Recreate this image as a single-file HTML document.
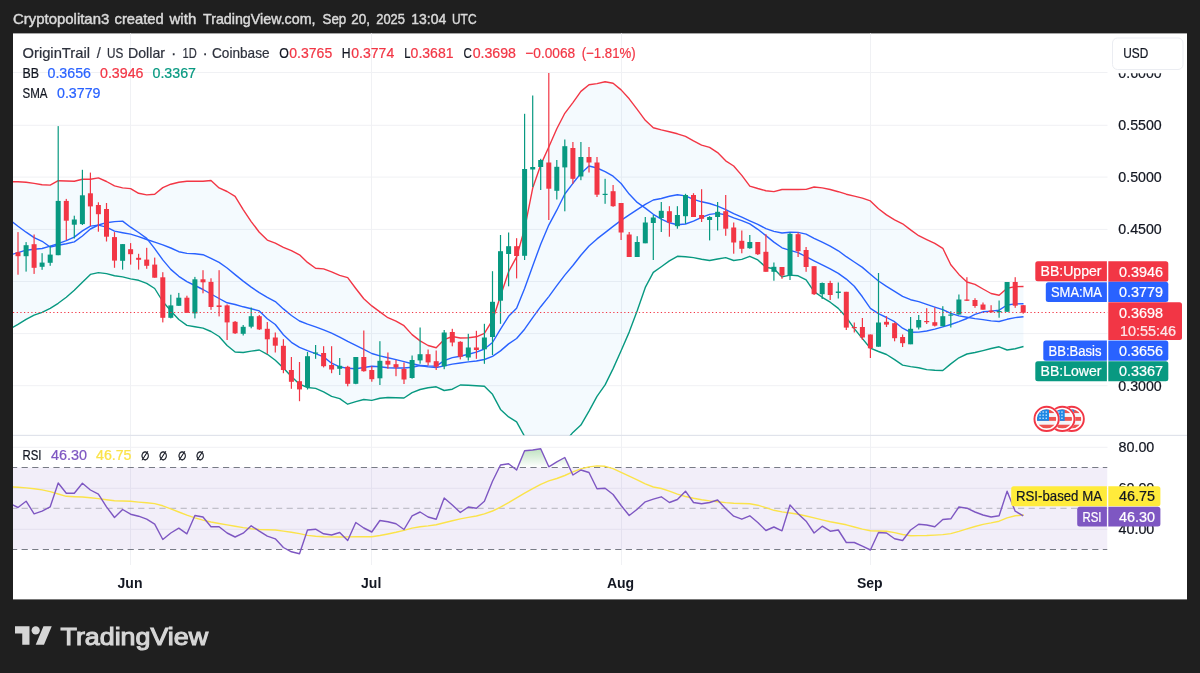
<!DOCTYPE html>
<html lang="en"><head><meta charset="utf-8"><title>OriginTrail / US Dollar chart</title>
<style>
html,body{margin:0;padding:0;background:#1f1f1f;}
body{width:1200px;height:673px;overflow:hidden;position:relative;font-family:"Liberation Sans",sans-serif;}
svg{position:absolute;left:0;top:0;display:block}
text{font-family:"Liberation Sans",sans-serif;}
</style></head><body>
<svg width="1200" height="673" viewBox="0 0 1200 673">
<rect x="0" y="0" width="1200" height="673" fill="#1f1f1f"/>
<rect x="13" y="33.4" width="1174" height="566.0" fill="#ffffff"/>
<defs><clipPath id="cm"><rect x="13" y="33.4" width="1094.5" height="401.90000000000003"/></clipPath><clipPath id="cr"><rect x="13" y="436.0" width="1094.5" height="129.7"/></clipPath><linearGradient id="gg" x1="0" y1="0" x2="0" y2="1"><stop offset="0" stop-color="#4CAF50" stop-opacity="0.36"/><stop offset="1" stop-color="#4CAF50" stop-opacity="0"/></linearGradient></defs>
<g stroke="#f0f1f4" stroke-width="1">
<line x1="13" y1="72.5" x2="1107.5" y2="72.5"/>
<line x1="13" y1="125.3" x2="1107.5" y2="125.3"/>
<line x1="13" y1="177.1" x2="1107.5" y2="177.1"/>
<line x1="13" y1="229.4" x2="1107.5" y2="229.4"/>
<line x1="13" y1="281.5" x2="1107.5" y2="281.5"/>
<line x1="13" y1="333.6" x2="1107.5" y2="333.6"/>
<line x1="13" y1="385.7" x2="1107.5" y2="385.7"/>
<line x1="13" y1="447.3" x2="1107.5" y2="447.3"/>
<line x1="13" y1="488.3" x2="1107.5" y2="488.3"/>
<line x1="13" y1="529.3" x2="1107.5" y2="529.3"/>
<line x1="130.5" y1="33.4" x2="130.5" y2="565"/>
<line x1="371.5" y1="33.4" x2="371.5" y2="565"/>
<line x1="621.5" y1="33.4" x2="621.5" y2="565"/>
<line x1="870.5" y1="33.4" x2="870.5" y2="565"/>
</g>
<rect x="13" y="434.8" width="1174" height="1.2" fill="#e0e3eb"/>
<g clip-path="url(#cm)">
<polygon points="8.0,181.7 10.0,181.7 18.0,181.8 26.1,182.3 34.1,183.4 42.1,184.7 50.2,185.1 58.2,180.7 66.3,181.0 74.3,181.2 82.4,179.3 90.4,179.3 98.4,177.9 106.5,181.5 114.5,185.9 122.6,187.9 130.6,188.6 138.6,193.3 146.7,194.9 154.7,194.2 162.8,187.6 170.8,184.2 178.8,182.2 186.9,181.3 194.9,181.3 203.0,181.3 211.0,180.5 219.1,187.9 227.1,191.5 235.1,196.3 243.2,209.6 251.2,221.6 259.3,232.2 267.3,240.1 275.3,243.2 283.4,247.3 291.4,250.7 299.5,254.8 307.5,262.4 315.6,268.3 323.6,268.9 331.6,271.9 339.7,275.4 347.7,277.6 355.8,288.5 363.8,298.8 371.8,305.9 379.9,311.9 387.9,317.7 396.0,321.1 404.0,325.7 412.1,334.6 420.1,340.9 428.1,345.5 436.2,347.7 444.2,339.6 452.3,336.5 460.3,338.0 468.3,337.7 476.4,336.8 484.4,333.3 492.5,320.2 500.5,296.0 508.6,271.7 516.6,256.9 524.6,228.8 532.7,188.1 540.7,164.9 548.8,147.0 556.8,128.7 564.8,113.3 572.9,102.6 580.9,91.4 589.0,84.7 597.0,83.6 605.1,81.8 613.1,83.2 621.1,89.9 629.2,98.8 637.2,109.3 645.3,120.3 653.3,127.8 661.3,129.9 669.4,131.7 677.4,133.8 685.5,136.4 693.5,140.9 701.6,145.1 709.6,147.3 717.6,152.6 725.7,160.8 733.7,166.0 741.8,175.4 749.8,186.1 757.8,188.5 765.9,190.7 773.9,191.6 782.0,189.5 790.0,189.5 798.1,189.5 806.1,189.4 814.1,187.0 822.2,187.9 830.2,189.5 838.3,191.7 846.3,194.2 854.3,196.1 862.4,198.1 870.4,200.9 878.5,208.7 886.5,214.9 894.6,219.8 902.6,223.8 910.6,229.9 918.7,235.7 926.7,239.6 934.8,243.4 942.8,248.3 950.8,264.8 958.9,274.4 966.9,282.0 975.0,284.4 983.0,289.0 991.1,293.5 999.1,295.2 1007.1,288.3 1015.2,286.6 1023.5,286.5 1023.5,346.5 1015.2,348.7 1007.1,350.0 999.1,346.8 991.1,348.5 983.0,350.6 975.0,352.5 966.9,354.0 958.9,357.8 950.8,363.9 942.8,370.5 934.8,370.3 926.7,369.6 918.7,367.7 910.6,366.6 902.6,365.1 894.6,359.7 886.5,354.5 878.5,351.5 870.4,348.2 862.4,338.6 854.3,328.6 846.3,317.3 838.3,308.4 830.2,302.2 822.2,297.3 814.1,291.6 806.1,279.8 798.1,275.8 790.0,275.1 782.0,276.9 773.9,268.8 765.9,267.2 757.8,259.9 749.8,256.3 741.8,259.4 733.7,260.5 725.7,257.6 717.6,259.0 709.6,260.5 701.6,259.3 693.5,257.6 685.5,256.7 677.4,256.3 669.4,260.9 661.3,266.7 653.3,272.4 645.3,287.4 637.2,310.8 629.2,332.1 621.1,350.8 613.1,368.6 605.1,384.9 597.0,396.3 589.0,411.1 580.9,425.1 572.9,432.4 564.8,442.0 556.8,450.8 548.8,455.8 540.7,453.9 532.7,447.9 524.6,436.4 516.6,421.8 508.6,416.9 500.5,409.4 492.5,394.3 484.4,386.2 476.4,385.7 468.3,385.3 460.3,385.0 452.3,389.2 444.2,390.5 436.2,386.8 428.1,387.7 420.1,389.5 412.1,392.7 404.0,398.0 396.0,397.8 387.9,397.5 379.9,398.3 371.8,400.4 363.8,399.5 355.8,401.7 347.7,404.2 339.7,398.6 331.6,396.3 323.6,391.9 315.6,388.4 307.5,387.5 299.5,384.2 291.4,376.5 283.4,367.9 275.3,360.3 267.3,354.3 259.3,350.0 251.2,351.1 243.2,352.5 235.1,352.0 227.1,345.5 219.1,336.5 211.0,331.5 203.0,328.1 194.9,326.7 186.9,325.4 178.8,319.5 170.8,310.9 162.8,301.5 154.7,288.5 146.7,283.4 138.6,280.3 130.6,278.9 122.6,276.9 114.5,275.7 106.5,273.6 98.4,272.6 90.4,274.4 82.4,282.2 74.3,290.3 66.3,297.3 58.2,303.3 50.2,308.3 42.1,312.3 34.1,315.2 26.1,319.4 18.0,324.4 10.0,329.0 8.0,330.0" fill="#2196F3" fill-opacity="0.05"/>
<polyline points="8.0,181.7 10.0,181.7 18.0,181.8 26.1,182.3 34.1,183.4 42.1,184.7 50.2,185.1 58.2,180.7 66.3,181.0 74.3,181.2 82.4,179.3 90.4,179.3 98.4,177.9 106.5,181.5 114.5,185.9 122.6,187.9 130.6,188.6 138.6,193.3 146.7,194.9 154.7,194.2 162.8,187.6 170.8,184.2 178.8,182.2 186.9,181.3 194.9,181.3 203.0,181.3 211.0,180.5 219.1,187.9 227.1,191.5 235.1,196.3 243.2,209.6 251.2,221.6 259.3,232.2 267.3,240.1 275.3,243.2 283.4,247.3 291.4,250.7 299.5,254.8 307.5,262.4 315.6,268.3 323.6,268.9 331.6,271.9 339.7,275.4 347.7,277.6 355.8,288.5 363.8,298.8 371.8,305.9 379.9,311.9 387.9,317.7 396.0,321.1 404.0,325.7 412.1,334.6 420.1,340.9 428.1,345.5 436.2,347.7 444.2,339.6 452.3,336.5 460.3,338.0 468.3,337.7 476.4,336.8 484.4,333.3 492.5,320.2 500.5,296.0 508.6,271.7 516.6,256.9 524.6,228.8 532.7,188.1 540.7,164.9 548.8,147.0 556.8,128.7 564.8,113.3 572.9,102.6 580.9,91.4 589.0,84.7 597.0,83.6 605.1,81.8 613.1,83.2 621.1,89.9 629.2,98.8 637.2,109.3 645.3,120.3 653.3,127.8 661.3,129.9 669.4,131.7 677.4,133.8 685.5,136.4 693.5,140.9 701.6,145.1 709.6,147.3 717.6,152.6 725.7,160.8 733.7,166.0 741.8,175.4 749.8,186.1 757.8,188.5 765.9,190.7 773.9,191.6 782.0,189.5 790.0,189.5 798.1,189.5 806.1,189.4 814.1,187.0 822.2,187.9 830.2,189.5 838.3,191.7 846.3,194.2 854.3,196.1 862.4,198.1 870.4,200.9 878.5,208.7 886.5,214.9 894.6,219.8 902.6,223.8 910.6,229.9 918.7,235.7 926.7,239.6 934.8,243.4 942.8,248.3 950.8,264.8 958.9,274.4 966.9,282.0 975.0,284.4 983.0,289.0 991.1,293.5 999.1,295.2 1007.1,288.3 1015.2,286.6 1023.5,286.5" fill="none" stroke="#F23645" stroke-width="1.4" stroke-linejoin="round"/>
<polyline points="8.0,330.0 10.0,329.0 18.0,324.4 26.1,319.4 34.1,315.2 42.1,312.3 50.2,308.3 58.2,303.3 66.3,297.3 74.3,290.3 82.4,282.2 90.4,274.4 98.4,272.6 106.5,273.6 114.5,275.7 122.6,276.9 130.6,278.9 138.6,280.3 146.7,283.4 154.7,288.5 162.8,301.5 170.8,310.9 178.8,319.5 186.9,325.4 194.9,326.7 203.0,328.1 211.0,331.5 219.1,336.5 227.1,345.5 235.1,352.0 243.2,352.5 251.2,351.1 259.3,350.0 267.3,354.3 275.3,360.3 283.4,367.9 291.4,376.5 299.5,384.2 307.5,387.5 315.6,388.4 323.6,391.9 331.6,396.3 339.7,398.6 347.7,404.2 355.8,401.7 363.8,399.5 371.8,400.4 379.9,398.3 387.9,397.5 396.0,397.8 404.0,398.0 412.1,392.7 420.1,389.5 428.1,387.7 436.2,386.8 444.2,390.5 452.3,389.2 460.3,385.0 468.3,385.3 476.4,385.7 484.4,386.2 492.5,394.3 500.5,409.4 508.6,416.9 516.6,421.8 524.6,436.4 532.7,447.9 540.7,453.9 548.8,455.8 556.8,450.8 564.8,442.0 572.9,432.4 580.9,425.1 589.0,411.1 597.0,396.3 605.1,384.9 613.1,368.6 621.1,350.8 629.2,332.1 637.2,310.8 645.3,287.4 653.3,272.4 661.3,266.7 669.4,260.9 677.4,256.3 685.5,256.7 693.5,257.6 701.6,259.3 709.6,260.5 717.6,259.0 725.7,257.6 733.7,260.5 741.8,259.4 749.8,256.3 757.8,259.9 765.9,267.2 773.9,268.8 782.0,276.9 790.0,275.1 798.1,275.8 806.1,279.8 814.1,291.6 822.2,297.3 830.2,302.2 838.3,308.4 846.3,317.3 854.3,328.6 862.4,338.6 870.4,348.2 878.5,351.5 886.5,354.5 894.6,359.7 902.6,365.1 910.6,366.6 918.7,367.7 926.7,369.6 934.8,370.3 942.8,370.5 950.8,363.9 958.9,357.8 966.9,354.0 975.0,352.5 983.0,350.6 991.1,348.5 999.1,346.8 1007.1,350.0 1015.2,348.7 1023.5,346.5" fill="none" stroke="#089981" stroke-width="1.4" stroke-linejoin="round"/>
<polyline points="8.0,255.5 10.0,255.0 18.0,252.7 26.1,250.2 34.1,249.2 42.1,248.5 50.2,246.2 58.2,243.7 66.3,240.7 74.3,237.1 82.4,230.9 90.4,226.1 98.4,225.1 106.5,227.1 114.5,231.1 122.6,232.7 130.6,234.1 138.6,236.6 146.7,239.5 154.7,242.2 162.8,244.8 170.8,248.0 178.8,251.7 186.9,253.4 194.9,253.8 203.0,254.7 211.0,258.3 219.1,262.4 227.1,268.0 235.1,274.6 243.2,281.1 251.2,287.1 259.3,292.7 267.3,297.4 275.3,301.6 283.4,308.9 291.4,315.5 299.5,321.0 307.5,324.2 315.6,326.9 323.6,329.9 331.6,333.2 339.7,337.2 347.7,341.4 355.8,345.3 363.8,349.3 371.8,353.5 379.9,355.9 387.9,357.7 396.0,359.6 404.0,361.6 412.1,363.7 420.1,365.5 428.1,366.9 436.2,367.5 444.2,365.9 452.3,364.1 460.3,363.0 468.3,361.9 476.4,361.0 484.4,359.5 492.5,356.3 500.5,350.9 508.6,343.9 516.6,338.5 524.6,329.2 532.7,317.6 540.7,306.7 548.8,296.6 556.8,285.7 564.8,275.1 572.9,265.5 580.9,255.2 589.0,246.0 597.0,238.9 605.1,232.6 613.1,226.4 621.1,220.4 629.2,214.8 637.2,209.6 645.3,204.4 653.3,200.0 661.3,198.5 669.4,196.3 677.4,194.7 685.5,195.9 693.5,199.3 701.6,201.8 709.6,203.5 717.6,206.1 725.7,209.7 733.7,213.6 741.8,217.2 749.8,220.8 757.8,224.4 765.9,228.6 773.9,231.4 782.0,233.0 790.0,232.2 798.1,232.4 806.1,234.1 814.1,238.3 822.2,242.2 830.2,246.1 838.3,250.8 846.3,256.7 854.3,262.0 862.4,267.4 870.4,274.2 878.5,281.0 886.5,286.4 894.6,291.3 902.6,296.4 910.6,299.7 918.7,301.6 926.7,304.3 934.8,307.1 942.8,309.7 950.8,313.3 958.9,315.9 966.9,317.3 975.0,318.6 983.0,319.6 991.1,320.9 999.1,321.5 1007.1,319.3 1015.2,317.6 1023.5,316.7" fill="none" stroke="#2962FF" stroke-width="1.4" stroke-linejoin="round"/>
<polyline points="8.0,218.5 10.0,220.1 18.0,226.3 26.1,232.2 34.1,237.6 42.1,241.3 50.2,247.0 58.2,245.3 66.3,243.8 74.3,241.9 82.4,236.0 90.4,229.0 98.4,225.0 106.5,222.7 114.5,221.6 122.6,221.1 130.6,227.2 138.6,232.5 146.7,238.4 154.7,248.6 162.8,259.9 170.8,269.4 178.8,276.3 186.9,281.6 194.9,285.5 203.0,289.5 211.0,294.0 219.1,298.5 227.1,302.8 235.1,304.5 243.2,306.8 251.2,308.7 259.3,310.9 267.3,318.7 275.3,324.5 283.4,334.8 291.4,342.3 299.5,347.3 307.5,350.6 315.6,353.6 323.6,356.9 331.6,363.2 339.7,366.9 347.7,368.3 355.8,368.7 363.8,367.5 371.8,366.3 379.9,366.8 387.9,367.8 396.0,368.0 404.0,368.0 412.1,367.2 420.1,365.5 428.1,365.9 436.2,366.1 444.2,360.6 452.3,357.6 460.3,356.2 468.3,354.3 476.4,352.1 484.4,349.0 492.5,342.5 500.5,329.1 508.6,316.3 516.6,308.2 524.6,288.6 532.7,265.9 540.7,244.2 548.8,225.1 556.8,210.2 564.8,194.0 572.9,183.3 580.9,173.4 589.0,166.0 597.0,168.0 605.1,171.6 613.1,176.2 621.1,183.5 629.2,194.1 637.2,202.4 645.3,208.1 653.3,214.3 661.3,219.1 669.4,222.8 677.4,224.8 685.5,224.0 693.5,221.2 701.6,217.3 709.6,214.4 717.6,213.4 725.7,214.7 733.7,217.9 741.8,220.6 749.8,223.9 757.8,229.3 765.9,235.6 773.9,242.1 782.0,247.8 790.0,250.4 798.1,252.7 806.1,256.7 814.1,260.8 822.2,264.8 830.2,268.8 838.3,273.4 846.3,279.1 854.3,286.3 862.4,296.8 870.4,308.4 878.5,313.7 886.5,317.5 894.6,321.7 902.6,328.2 910.6,332.3 918.7,332.1 926.7,331.0 934.8,329.1 942.8,326.9 950.8,324.5 958.9,321.7 966.9,318.5 975.0,314.4 983.0,311.8 991.1,311.1 999.1,310.2 1007.1,305.0 1015.2,303.9 1023.5,303.7" fill="none" stroke="#2962FF" stroke-width="1.4" stroke-linejoin="round"/>
<rect x="17.4" y="232.1" width="1.2" height="42.6" fill="#F23645"/>
<rect x="15.5" y="252.2" width="5" height="4.0" fill="#F23645"/>
<rect x="25.5" y="242.1" width="1.2" height="29.5" fill="#089981"/>
<rect x="23.6" y="245.2" width="5" height="11.0" fill="#089981"/>
<rect x="33.5" y="234.5" width="1.2" height="39.4" fill="#F23645"/>
<rect x="31.6" y="244.2" width="5" height="23.6" fill="#F23645"/>
<rect x="41.5" y="253.2" width="1.2" height="16.6" fill="#089981"/>
<rect x="39.6" y="262.6" width="5" height="4.2" fill="#089981"/>
<rect x="49.6" y="245.8" width="1.2" height="20.0" fill="#089981"/>
<rect x="47.7" y="254.6" width="5" height="8.2" fill="#089981"/>
<rect x="57.6" y="126.1" width="1.2" height="129.1" fill="#089981"/>
<rect x="55.7" y="200.9" width="5" height="54.3" fill="#089981"/>
<rect x="65.7" y="198.9" width="1.2" height="41.2" fill="#F23645"/>
<rect x="63.8" y="200.9" width="5" height="19.8" fill="#F23645"/>
<rect x="73.7" y="215.7" width="1.2" height="22.8" fill="#089981"/>
<rect x="71.8" y="219.5" width="5" height="5.2" fill="#089981"/>
<rect x="81.8" y="169.8" width="1.2" height="55.2" fill="#089981"/>
<rect x="79.9" y="195.3" width="5" height="28.8" fill="#089981"/>
<rect x="89.8" y="172.6" width="1.2" height="53.5" fill="#F23645"/>
<rect x="87.9" y="193.3" width="5" height="13.1" fill="#F23645"/>
<rect x="97.8" y="202.3" width="1.2" height="29.4" fill="#F23645"/>
<rect x="95.9" y="205.0" width="5" height="9.2" fill="#F23645"/>
<rect x="105.9" y="203.0" width="1.2" height="38.5" fill="#F23645"/>
<rect x="104.0" y="209.0" width="5" height="27.7" fill="#F23645"/>
<rect x="113.9" y="232.1" width="1.2" height="35.7" fill="#F23645"/>
<rect x="112.0" y="237.1" width="5" height="23.5" fill="#F23645"/>
<rect x="122.0" y="244.1" width="1.2" height="25.5" fill="#089981"/>
<rect x="120.1" y="244.1" width="5" height="16.7" fill="#089981"/>
<rect x="130.0" y="243.1" width="1.2" height="21.5" fill="#F23645"/>
<rect x="128.1" y="249.2" width="5" height="5.0" fill="#F23645"/>
<rect x="138.0" y="253.8" width="1.2" height="15.8" fill="#F23645"/>
<rect x="136.1" y="257.8" width="5" height="2.0" fill="#F23645"/>
<rect x="146.1" y="247.8" width="1.2" height="21.0" fill="#F23645"/>
<rect x="144.2" y="259.6" width="5" height="6.2" fill="#F23645"/>
<rect x="154.1" y="257.6" width="1.2" height="20.1" fill="#F23645"/>
<rect x="152.2" y="264.6" width="5" height="13.1" fill="#F23645"/>
<rect x="162.2" y="272.2" width="1.2" height="50.2" fill="#F23645"/>
<rect x="160.3" y="277.3" width="5" height="40.5" fill="#F23645"/>
<rect x="170.2" y="294.7" width="1.2" height="23.7" fill="#089981"/>
<rect x="168.3" y="305.4" width="5" height="12.4" fill="#089981"/>
<rect x="178.2" y="292.9" width="1.2" height="12.9" fill="#089981"/>
<rect x="176.3" y="297.7" width="5" height="8.1" fill="#089981"/>
<rect x="186.3" y="295.7" width="1.2" height="17.1" fill="#F23645"/>
<rect x="184.4" y="297.7" width="5" height="15.1" fill="#F23645"/>
<rect x="194.3" y="276.9" width="1.2" height="41.5" fill="#089981"/>
<rect x="192.4" y="279.3" width="5" height="34.1" fill="#089981"/>
<rect x="202.4" y="270.2" width="1.2" height="23.1" fill="#F23645"/>
<rect x="200.5" y="279.3" width="5" height="3.0" fill="#F23645"/>
<rect x="210.4" y="278.3" width="1.2" height="31.5" fill="#F23645"/>
<rect x="208.5" y="281.9" width="5" height="25.1" fill="#F23645"/>
<rect x="218.5" y="270.2" width="1.2" height="46.2" fill="#F23645"/>
<rect x="216.6" y="305.4" width="5" height="1.6" fill="#F23645"/>
<rect x="226.5" y="304.4" width="1.2" height="35.6" fill="#F23645"/>
<rect x="224.6" y="305.4" width="5" height="17.0" fill="#F23645"/>
<rect x="234.5" y="321.0" width="1.2" height="13.0" fill="#F23645"/>
<rect x="232.6" y="321.8" width="5" height="11.5" fill="#F23645"/>
<rect x="242.6" y="325.0" width="1.2" height="10.5" fill="#089981"/>
<rect x="240.7" y="326.8" width="5" height="7.0" fill="#089981"/>
<rect x="250.6" y="307.5" width="1.2" height="20.8" fill="#089981"/>
<rect x="248.7" y="316.2" width="5" height="10.5" fill="#089981"/>
<rect x="258.7" y="315.0" width="1.2" height="15.0" fill="#F23645"/>
<rect x="256.8" y="316.2" width="5" height="13.2" fill="#F23645"/>
<rect x="266.7" y="322.0" width="1.2" height="31.8" fill="#F23645"/>
<rect x="264.8" y="328.8" width="5" height="10.5" fill="#F23645"/>
<rect x="274.7" y="332.5" width="1.2" height="20.0" fill="#F23645"/>
<rect x="272.8" y="337.5" width="5" height="8.2" fill="#F23645"/>
<rect x="282.8" y="339.2" width="1.2" height="34.0" fill="#F23645"/>
<rect x="280.9" y="345.8" width="5" height="24.2" fill="#F23645"/>
<rect x="290.8" y="357.0" width="1.2" height="31.8" fill="#F23645"/>
<rect x="288.9" y="370.0" width="5" height="11.8" fill="#F23645"/>
<rect x="298.9" y="362.0" width="1.2" height="39.2" fill="#F23645"/>
<rect x="297.0" y="381.2" width="5" height="8.2" fill="#F23645"/>
<rect x="306.9" y="352.0" width="1.2" height="37.5" fill="#089981"/>
<rect x="305.0" y="356.2" width="5" height="30.8" fill="#089981"/>
<rect x="315.0" y="345.0" width="1.2" height="13.8" fill="#089981"/>
<rect x="313.1" y="352.5" width="5" height="1.2" fill="#089981"/>
<rect x="323.0" y="346.2" width="1.2" height="21.2" fill="#F23645"/>
<rect x="321.1" y="353.0" width="5" height="13.2" fill="#F23645"/>
<rect x="331.0" y="346.2" width="1.2" height="27.0" fill="#F23645"/>
<rect x="329.1" y="365.0" width="5" height="4.5" fill="#F23645"/>
<rect x="339.1" y="358.0" width="1.2" height="17.0" fill="#089981"/>
<rect x="337.2" y="365.8" width="5" height="3.0" fill="#089981"/>
<rect x="347.1" y="365.8" width="1.2" height="20.5" fill="#F23645"/>
<rect x="345.2" y="366.8" width="5" height="17.0" fill="#F23645"/>
<rect x="355.2" y="357.0" width="1.2" height="27.2" fill="#089981"/>
<rect x="353.3" y="357.0" width="5" height="26.8" fill="#089981"/>
<rect x="363.2" y="330.5" width="1.2" height="41.2" fill="#F23645"/>
<rect x="361.3" y="357.0" width="5" height="14.2" fill="#F23645"/>
<rect x="371.2" y="366.2" width="1.2" height="15.5" fill="#F23645"/>
<rect x="369.3" y="370.0" width="5" height="9.2" fill="#F23645"/>
<rect x="379.3" y="341.2" width="1.2" height="43.8" fill="#089981"/>
<rect x="377.4" y="360.8" width="5" height="17.5" fill="#089981"/>
<rect x="387.3" y="352.5" width="1.2" height="16.2" fill="#F23645"/>
<rect x="385.4" y="360.8" width="5" height="3.8" fill="#F23645"/>
<rect x="395.4" y="360.0" width="1.2" height="16.2" fill="#F23645"/>
<rect x="393.5" y="364.2" width="5" height="3.2" fill="#F23645"/>
<rect x="403.4" y="362.5" width="1.2" height="21.5" fill="#F23645"/>
<rect x="401.5" y="369.0" width="5" height="10.5" fill="#F23645"/>
<rect x="411.5" y="355.5" width="1.2" height="23.2" fill="#089981"/>
<rect x="409.6" y="360.0" width="5" height="18.0" fill="#089981"/>
<rect x="419.5" y="327.5" width="1.2" height="36.2" fill="#089981"/>
<rect x="417.6" y="354.2" width="5" height="6.2" fill="#089981"/>
<rect x="427.5" y="349.5" width="1.2" height="16.0" fill="#F23645"/>
<rect x="425.6" y="354.2" width="5" height="8.2" fill="#F23645"/>
<rect x="435.6" y="350.5" width="1.2" height="19.5" fill="#F23645"/>
<rect x="433.7" y="361.2" width="5" height="5.5" fill="#F23645"/>
<rect x="443.6" y="330.0" width="1.2" height="39.2" fill="#089981"/>
<rect x="441.7" y="332.5" width="5" height="33.8" fill="#089981"/>
<rect x="451.7" y="328.8" width="1.2" height="17.5" fill="#F23645"/>
<rect x="449.8" y="332.0" width="5" height="10.5" fill="#F23645"/>
<rect x="459.7" y="341.2" width="1.2" height="18.2" fill="#F23645"/>
<rect x="457.8" y="341.8" width="5" height="15.0" fill="#F23645"/>
<rect x="467.7" y="333.8" width="1.2" height="26.8" fill="#089981"/>
<rect x="465.8" y="347.5" width="5" height="10.0" fill="#089981"/>
<rect x="475.8" y="330.8" width="1.2" height="28.0" fill="#F23645"/>
<rect x="473.9" y="347.5" width="5" height="2.5" fill="#F23645"/>
<rect x="483.8" y="323.8" width="1.2" height="40.0" fill="#089981"/>
<rect x="481.9" y="337.5" width="5" height="11.8" fill="#089981"/>
<rect x="491.9" y="271.2" width="1.2" height="83.8" fill="#089981"/>
<rect x="490.0" y="301.8" width="5" height="35.2" fill="#089981"/>
<rect x="499.9" y="235.0" width="1.2" height="88.8" fill="#089981"/>
<rect x="498.0" y="251.2" width="5" height="49.5" fill="#089981"/>
<rect x="508.0" y="232.5" width="1.2" height="53.8" fill="#089981"/>
<rect x="506.1" y="246.2" width="5" height="7.8" fill="#089981"/>
<rect x="516.0" y="238.2" width="1.2" height="40.2" fill="#F23645"/>
<rect x="514.1" y="246.2" width="5" height="9.8" fill="#F23645"/>
<rect x="524.0" y="113.8" width="1.2" height="146.2" fill="#089981"/>
<rect x="522.1" y="169.0" width="5" height="86.8" fill="#089981"/>
<rect x="532.1" y="95.5" width="1.2" height="91.5" fill="#089981"/>
<rect x="530.2" y="167.0" width="5" height="2.5" fill="#089981"/>
<rect x="540.1" y="158.8" width="1.2" height="31.2" fill="#089981"/>
<rect x="538.2" y="160.0" width="5" height="7.0" fill="#089981"/>
<rect x="548.2" y="73.0" width="1.2" height="147.0" fill="#F23645"/>
<rect x="546.3" y="162.5" width="5" height="26.2" fill="#F23645"/>
<rect x="556.2" y="160.0" width="1.2" height="39.5" fill="#089981"/>
<rect x="554.3" y="166.8" width="5" height="24.0" fill="#089981"/>
<rect x="564.2" y="139.5" width="1.2" height="71.8" fill="#089981"/>
<rect x="562.3" y="146.2" width="5" height="21.2" fill="#089981"/>
<rect x="572.3" y="142.0" width="1.2" height="41.8" fill="#F23645"/>
<rect x="570.4" y="148.0" width="5" height="30.8" fill="#F23645"/>
<rect x="580.3" y="142.0" width="1.2" height="38.2" fill="#089981"/>
<rect x="578.4" y="157.0" width="5" height="19.5" fill="#089981"/>
<rect x="588.4" y="147.0" width="1.2" height="25.5" fill="#F23645"/>
<rect x="586.5" y="157.0" width="5" height="5.5" fill="#F23645"/>
<rect x="596.4" y="157.0" width="1.2" height="40.0" fill="#F23645"/>
<rect x="594.5" y="162.5" width="5" height="32.2" fill="#F23645"/>
<rect x="604.5" y="178.8" width="1.2" height="25.0" fill="#089981"/>
<rect x="602.6" y="193.8" width="5" height="1.2" fill="#089981"/>
<rect x="612.5" y="185.0" width="1.2" height="21.8" fill="#F23645"/>
<rect x="610.6" y="191.2" width="5" height="15.0" fill="#F23645"/>
<rect x="620.5" y="203.0" width="1.2" height="37.0" fill="#F23645"/>
<rect x="618.6" y="203.0" width="5" height="29.5" fill="#F23645"/>
<rect x="628.6" y="232.0" width="1.2" height="25.0" fill="#F23645"/>
<rect x="626.7" y="234.5" width="5" height="22.5" fill="#F23645"/>
<rect x="636.6" y="236.2" width="1.2" height="20.8" fill="#089981"/>
<rect x="634.7" y="242.0" width="5" height="15.0" fill="#089981"/>
<rect x="644.7" y="217.0" width="1.2" height="26.2" fill="#089981"/>
<rect x="642.8" y="222.5" width="5" height="20.8" fill="#089981"/>
<rect x="652.7" y="215.0" width="1.2" height="45.0" fill="#089981"/>
<rect x="650.8" y="217.5" width="5" height="5.5" fill="#089981"/>
<rect x="660.7" y="202.0" width="1.2" height="30.0" fill="#089981"/>
<rect x="658.8" y="210.8" width="5" height="7.2" fill="#089981"/>
<rect x="668.8" y="206.2" width="1.2" height="30.5" fill="#F23645"/>
<rect x="666.9" y="211.2" width="5" height="11.2" fill="#F23645"/>
<rect x="676.8" y="206.2" width="1.2" height="22.5" fill="#089981"/>
<rect x="674.9" y="215.0" width="5" height="11.2" fill="#089981"/>
<rect x="684.9" y="193.8" width="1.2" height="30.0" fill="#089981"/>
<rect x="683.0" y="195.0" width="5" height="21.2" fill="#089981"/>
<rect x="692.9" y="193.2" width="1.2" height="23.8" fill="#F23645"/>
<rect x="691.0" y="195.0" width="5" height="22.0" fill="#F23645"/>
<rect x="701.0" y="189.2" width="1.2" height="32.8" fill="#F23645"/>
<rect x="699.1" y="215.0" width="5" height="3.8" fill="#F23645"/>
<rect x="709.0" y="216.2" width="1.2" height="24.2" fill="#089981"/>
<rect x="707.1" y="217.0" width="5" height="3.0" fill="#089981"/>
<rect x="717.0" y="202.0" width="1.2" height="28.5" fill="#089981"/>
<rect x="715.1" y="211.8" width="5" height="5.2" fill="#089981"/>
<rect x="725.1" y="195.0" width="1.2" height="40.8" fill="#F23645"/>
<rect x="723.2" y="211.2" width="5" height="17.5" fill="#F23645"/>
<rect x="733.1" y="222.5" width="1.2" height="31.2" fill="#F23645"/>
<rect x="731.2" y="227.5" width="5" height="15.0" fill="#F23645"/>
<rect x="741.2" y="230.5" width="1.2" height="22.8" fill="#F23645"/>
<rect x="739.3" y="240.8" width="5" height="8.0" fill="#F23645"/>
<rect x="749.2" y="235.0" width="1.2" height="13.8" fill="#089981"/>
<rect x="747.3" y="242.0" width="5" height="6.2" fill="#089981"/>
<rect x="757.2" y="242.0" width="1.2" height="13.0" fill="#F23645"/>
<rect x="755.3" y="242.0" width="5" height="12.2" fill="#F23645"/>
<rect x="765.3" y="234.2" width="1.2" height="37.5" fill="#F23645"/>
<rect x="763.4" y="251.8" width="5" height="20.0" fill="#F23645"/>
<rect x="773.3" y="262.5" width="1.2" height="18.2" fill="#089981"/>
<rect x="771.4" y="266.8" width="5" height="5.0" fill="#089981"/>
<rect x="781.4" y="267.0" width="1.2" height="11.8" fill="#F23645"/>
<rect x="779.5" y="267.0" width="5" height="8.5" fill="#F23645"/>
<rect x="789.4" y="232.5" width="1.2" height="47.5" fill="#089981"/>
<rect x="787.5" y="233.8" width="5" height="41.8" fill="#089981"/>
<rect x="797.5" y="232.5" width="1.2" height="24.5" fill="#F23645"/>
<rect x="795.6" y="234.2" width="5" height="17.0" fill="#F23645"/>
<rect x="805.5" y="247.0" width="1.2" height="24.8" fill="#F23645"/>
<rect x="803.6" y="250.0" width="5" height="17.0" fill="#F23645"/>
<rect x="813.5" y="266.2" width="1.2" height="28.8" fill="#F23645"/>
<rect x="811.6" y="266.2" width="5" height="28.0" fill="#F23645"/>
<rect x="821.6" y="282.5" width="1.2" height="16.5" fill="#089981"/>
<rect x="819.7" y="283.0" width="5" height="11.2" fill="#089981"/>
<rect x="829.6" y="280.8" width="1.2" height="19.2" fill="#F23645"/>
<rect x="827.7" y="283.0" width="5" height="12.0" fill="#F23645"/>
<rect x="837.7" y="282.5" width="1.2" height="16.0" fill="#089981"/>
<rect x="835.8" y="291.5" width="5" height="1.5" fill="#089981"/>
<rect x="845.7" y="291.8" width="1.2" height="38.2" fill="#F23645"/>
<rect x="843.8" y="291.8" width="5" height="35.8" fill="#F23645"/>
<rect x="853.7" y="322.5" width="1.2" height="10.0" fill="#F23645"/>
<rect x="851.8" y="327.0" width="5" height="1.2" fill="#F23645"/>
<rect x="861.8" y="318.0" width="1.2" height="22.0" fill="#F23645"/>
<rect x="859.9" y="327.0" width="5" height="10.5" fill="#F23645"/>
<rect x="869.8" y="334.5" width="1.2" height="23.5" fill="#F23645"/>
<rect x="867.9" y="334.5" width="5" height="13.8" fill="#F23645"/>
<rect x="877.9" y="273.0" width="1.2" height="73.8" fill="#089981"/>
<rect x="876.0" y="322.5" width="5" height="24.2" fill="#089981"/>
<rect x="885.9" y="316.2" width="1.2" height="10.8" fill="#F23645"/>
<rect x="884.0" y="321.8" width="5" height="2.8" fill="#F23645"/>
<rect x="894.0" y="322.5" width="1.2" height="18.8" fill="#F23645"/>
<rect x="892.1" y="323.2" width="5" height="15.0" fill="#F23645"/>
<rect x="902.0" y="334.5" width="1.2" height="12.5" fill="#F23645"/>
<rect x="900.1" y="337.0" width="5" height="6.2" fill="#F23645"/>
<rect x="910.0" y="317.0" width="1.2" height="27.2" fill="#089981"/>
<rect x="908.1" y="328.8" width="5" height="15.5" fill="#089981"/>
<rect x="918.1" y="315.0" width="1.2" height="14.5" fill="#089981"/>
<rect x="916.2" y="320.0" width="5" height="7.5" fill="#089981"/>
<rect x="926.1" y="308.2" width="1.2" height="15.8" fill="#F23645"/>
<rect x="924.2" y="321.0" width="5" height="1.2" fill="#F23645"/>
<rect x="934.2" y="307.5" width="1.2" height="19.0" fill="#F23645"/>
<rect x="932.3" y="322.2" width="5" height="3.5" fill="#F23645"/>
<rect x="942.2" y="306.2" width="1.2" height="20.3" fill="#089981"/>
<rect x="940.3" y="316.2" width="5" height="10.0" fill="#089981"/>
<rect x="950.2" y="311.2" width="1.2" height="16.3" fill="#089981"/>
<rect x="948.3" y="314.5" width="5" height="1.2" fill="#089981"/>
<rect x="958.3" y="294.5" width="1.2" height="20.2" fill="#089981"/>
<rect x="956.4" y="299.5" width="5" height="15.0" fill="#089981"/>
<rect x="966.3" y="277.2" width="1.2" height="23.8" fill="#F23645"/>
<rect x="964.4" y="299.5" width="5" height="1.3" fill="#F23645"/>
<rect x="974.4" y="298.2" width="1.2" height="9.6" fill="#F23645"/>
<rect x="972.5" y="300.0" width="5" height="6.0" fill="#F23645"/>
<rect x="982.4" y="302.5" width="1.2" height="7.2" fill="#F23645"/>
<rect x="980.5" y="304.5" width="5" height="5.2" fill="#F23645"/>
<rect x="990.5" y="305.2" width="1.2" height="7.3" fill="#F23645"/>
<rect x="988.6" y="310.5" width="5" height="1.8" fill="#F23645"/>
<rect x="998.5" y="300.5" width="1.2" height="17.2" fill="#089981"/>
<rect x="996.6" y="311.0" width="5" height="1.2" fill="#089981"/>
<rect x="1006.5" y="282.0" width="1.2" height="29.8" fill="#089981"/>
<rect x="1004.6" y="282.0" width="5" height="29.8" fill="#089981"/>
<rect x="1014.6" y="277.2" width="1.2" height="30.6" fill="#F23645"/>
<rect x="1012.7" y="282.0" width="5" height="23.7" fill="#F23645"/>
<rect x="1022.6" y="305.0" width="1.2" height="8.7" fill="#F23645"/>
<rect x="1020.7" y="305.2" width="5" height="7.5" fill="#F23645"/>
</g>
<line x1="13" y1="312.5" x2="1107.5" y2="312.5" stroke="#F23645" stroke-width="1" stroke-dasharray="1.25 2.41"/>
<g clip-path="url(#cr)">
<rect x="13" y="467.5" width="1094.5" height="82.0" fill="#7E57C2" fill-opacity="0.1"/>
<polygon points="516.3,467.5 516.6,467.5 524.6,450.8 532.7,450.0 540.7,448.8 548.8,466.8 556.8,461.8 564.8,457.5 572.9,467.5 572.0,467.5" fill="url(#gg)"/>
<g stroke-width="1" stroke-dasharray="6.2 4.4" stroke-dashoffset="2" fill="none"><line x1="13" y1="467.5" x2="1107.5" y2="467.5" stroke="#787B86"/><line x1="13" y1="508.3" x2="1107.5" y2="508.3" stroke="#787B86" stroke-opacity="0.5"/><line x1="13" y1="549.5" x2="1107.5" y2="549.5" stroke="#787B86"/></g>
<polyline points="8.0,487.0 10.0,487.0 18.0,487.2 26.1,487.9 34.1,488.7 42.1,489.9 50.2,491.6 58.2,494.0 66.3,496.3 74.3,496.7 82.4,497.0 90.4,497.7 98.4,498.6 106.5,499.7 114.5,500.7 122.6,501.0 130.6,501.3 138.6,502.1 146.7,502.8 154.7,503.6 162.8,505.8 170.8,508.8 178.8,512.0 186.9,515.2 194.9,517.8 203.0,520.1 211.0,522.0 219.1,523.5 227.1,524.9 235.1,526.3 243.2,527.6 251.2,528.7 259.3,529.5 267.3,529.7 275.3,530.0 283.4,531.1 291.4,532.3 299.5,533.6 307.5,535.4 315.6,536.3 323.6,536.8 331.6,536.9 339.7,537.0 347.7,536.9 355.8,536.8 363.8,536.8 371.8,536.7 379.9,535.5 387.9,534.0 396.0,532.3 404.0,530.4 412.1,528.1 420.1,526.8 428.1,525.9 436.2,524.8 444.2,522.8 452.3,520.7 460.3,518.9 468.3,517.4 476.4,516.0 484.4,513.9 492.5,511.0 500.5,507.2 508.6,502.6 516.6,497.8 524.6,493.1 532.7,488.7 540.7,484.3 548.8,480.8 556.8,478.5 564.8,475.5 572.9,471.8 580.9,468.9 589.0,466.9 597.0,465.9 605.1,466.3 613.1,468.6 621.1,472.4 629.2,476.2 637.2,479.9 645.3,483.9 653.3,487.0 661.3,488.5 669.4,491.1 677.4,494.2 685.5,496.5 693.5,498.3 701.6,499.7 709.6,500.9 717.6,501.8 725.7,502.6 733.7,503.2 741.8,503.5 749.8,503.7 757.8,505.2 765.9,507.7 773.9,510.3 782.0,511.9 790.0,513.0 798.1,514.3 806.1,516.0 814.1,517.9 822.2,519.9 830.2,521.8 838.3,523.2 846.3,524.8 854.3,527.0 862.4,529.1 870.4,530.8 878.5,531.0 886.5,531.2 894.6,532.6 902.6,534.5 910.6,535.7 918.7,535.6 926.7,535.5 934.8,535.1 942.8,534.6 950.8,533.6 958.9,531.4 966.9,528.9 975.0,526.5 983.0,524.4 991.1,522.9 999.1,521.2 1007.1,517.9 1015.2,515.8 1023.2,515.0 1023.8,515.0" fill="none" stroke="#FBE34A" stroke-width="1.4" stroke-linejoin="round"/>
<polyline points="10.0,503.5 18.0,507.5 26.1,501.2 34.1,513.8 42.1,511.2 50.2,506.8 58.2,483.0 66.3,493.2 74.3,493.2 82.4,483.2 90.4,490.0 98.4,494.2 106.5,506.8 114.5,517.5 122.6,509.5 130.6,514.2 138.6,516.2 146.7,519.2 154.7,524.2 162.8,539.5 170.8,533.0 178.8,528.2 186.9,533.8 194.9,515.5 203.0,517.0 211.0,526.8 219.1,526.8 227.1,533.0 235.1,537.0 243.2,533.2 251.2,525.8 259.3,531.2 267.3,536.2 275.3,538.8 283.4,547.5 291.4,551.8 299.5,553.8 307.5,530.0 315.6,529.2 323.6,533.8 331.6,535.0 339.7,532.5 347.7,540.5 355.8,522.5 363.8,528.0 371.8,532.0 379.9,520.5 387.9,521.8 396.0,523.8 404.0,529.5 412.1,515.8 420.1,512.0 428.1,517.0 436.2,519.2 444.2,498.0 452.3,505.0 460.3,512.5 468.3,507.0 476.4,508.2 484.4,501.2 492.5,481.2 500.5,465.0 508.6,463.8 516.6,470.0 524.6,450.8 532.7,450.0 540.7,448.8 548.8,466.8 556.8,461.8 564.8,457.5 572.9,475.0 580.9,470.0 589.0,472.5 597.0,488.8 605.1,488.2 613.1,494.5 621.1,505.5 629.2,515.5 637.2,509.2 645.3,501.8 653.3,499.2 661.3,496.8 669.4,502.5 677.4,499.5 685.5,491.2 693.5,502.5 701.6,503.8 709.6,502.5 717.6,500.0 725.7,508.8 733.7,516.2 741.8,519.2 749.8,515.8 757.8,522.5 765.9,530.5 773.9,527.0 782.0,530.8 790.0,505.0 798.1,513.8 806.1,521.2 814.1,533.0 822.2,526.2 830.2,531.2 838.3,530.0 846.3,542.5 854.3,542.5 862.4,546.2 870.4,550.0 878.5,532.5 886.5,533.0 894.6,538.8 902.6,540.5 910.6,530.0 918.7,524.2 926.7,525.0 934.8,526.8 942.8,519.5 950.8,518.8 958.9,507.0 966.9,508.2 975.0,512.0 983.0,515.0 991.1,517.0 999.1,515.8 1007.1,491.2 1015.2,511.2 1023.2,515.8" fill="none" stroke="#7E57C2" stroke-width="1.4" stroke-linejoin="round"/>
</g>
<text x="13" y="24.3" font-size="14.5" fill="#d9d9d9" font-weight="normal" text-anchor="start" textLength="96.25" lengthAdjust="spacingAndGlyphs" stroke="#d9d9d9" stroke-width="0.45">Cryptopolitan3</text>
<text x="114.5" y="24.3" font-size="14.5" fill="#d9d9d9" font-weight="normal" text-anchor="start" textLength="49.25" lengthAdjust="spacingAndGlyphs" stroke="#d9d9d9" stroke-width="0.45">created</text>
<text x="169.5" y="24.3" font-size="14.5" fill="#d9d9d9" font-weight="normal" text-anchor="start" textLength="26.75" lengthAdjust="spacingAndGlyphs" stroke="#d9d9d9" stroke-width="0.45">with</text>
<text x="203" y="24.3" font-size="14.5" fill="#d9d9d9" font-weight="normal" text-anchor="start" textLength="112.5" lengthAdjust="spacingAndGlyphs" stroke="#d9d9d9" stroke-width="0.45">TradingView.com,</text>
<text x="322.5" y="24.3" font-size="14.5" fill="#d9d9d9" font-weight="normal" text-anchor="start" textLength="23.75" lengthAdjust="spacingAndGlyphs" stroke="#d9d9d9" stroke-width="0.45">Sep</text>
<text x="351.25" y="24.3" font-size="14.5" fill="#d9d9d9" font-weight="normal" text-anchor="start" textLength="18.75" lengthAdjust="spacingAndGlyphs" stroke="#d9d9d9" stroke-width="0.45">20,</text>
<text x="376.25" y="24.3" font-size="14.5" fill="#d9d9d9" font-weight="normal" text-anchor="start" textLength="28.75" lengthAdjust="spacingAndGlyphs" stroke="#d9d9d9" stroke-width="0.45">2025</text>
<text x="411.25" y="24.3" font-size="14.5" fill="#d9d9d9" font-weight="normal" text-anchor="start" textLength="35.0" lengthAdjust="spacingAndGlyphs" stroke="#d9d9d9" stroke-width="0.45">13:04</text>
<text x="452" y="24.3" font-size="14.5" fill="#d9d9d9" font-weight="normal" text-anchor="start" textLength="24.5" lengthAdjust="spacingAndGlyphs" stroke="#d9d9d9" stroke-width="0.45">UTC</text>
<text x="1118.3" y="78" font-size="14" fill="#131722" font-weight="normal" text-anchor="start" textLength="43.4" lengthAdjust="spacingAndGlyphs" stroke="#131722" stroke-width="0.22">0.6000</text>
<text x="1118.3" y="130" font-size="14" fill="#131722" font-weight="normal" text-anchor="start" textLength="43.4" lengthAdjust="spacingAndGlyphs" stroke="#131722" stroke-width="0.22">0.5500</text>
<text x="1118.3" y="182" font-size="14" fill="#131722" font-weight="normal" text-anchor="start" textLength="43.4" lengthAdjust="spacingAndGlyphs" stroke="#131722" stroke-width="0.22">0.5000</text>
<text x="1118.3" y="234" font-size="14" fill="#131722" font-weight="normal" text-anchor="start" textLength="43.4" lengthAdjust="spacingAndGlyphs" stroke="#131722" stroke-width="0.22">0.4500</text>
<text x="1118.3" y="390.5" font-size="14" fill="#131722" font-weight="normal" text-anchor="start" textLength="43.4" lengthAdjust="spacingAndGlyphs" stroke="#131722" stroke-width="0.22">0.3000</text>
<text x="1118.5" y="452" font-size="14" fill="#131722" font-weight="normal" text-anchor="start" textLength="35.8" lengthAdjust="spacingAndGlyphs" stroke="#131722" stroke-width="0.22">80.00</text>
<text x="1118.5" y="493" font-size="14" fill="#131722" font-weight="normal" text-anchor="start" textLength="35.8" lengthAdjust="spacingAndGlyphs" stroke="#131722" stroke-width="0.22">60.00</text>
<text x="1118.5" y="534" font-size="14" fill="#131722" font-weight="normal" text-anchor="start" textLength="35.8" lengthAdjust="spacingAndGlyphs" stroke="#131722" stroke-width="0.22">40.00</text>
<rect x="1108.0" y="34" width="78.0" height="39.3" fill="#fff"/>
<rect x="1112.5" y="38" width="70.5" height="31.5" rx="5" ry="5" fill="#fff" stroke="#ebedf2" stroke-width="1"/>
<text x="1123.3" y="58.3" font-size="14" fill="#131722" font-weight="normal" text-anchor="start" textLength="25" lengthAdjust="spacingAndGlyphs" stroke="#131722" stroke-width="0.22">USD</text>
<text x="130.0" y="588" font-size="14" fill="#131722" font-weight="bold" text-anchor="middle">Jun</text>
<text x="371.2" y="588" font-size="14" fill="#131722" font-weight="bold" text-anchor="middle">Jul</text>
<text x="620.5" y="588" font-size="14" fill="#131722" font-weight="bold" text-anchor="middle">Aug</text>
<text x="869.8" y="588" font-size="14" fill="#131722" font-weight="bold" text-anchor="middle">Sep</text>
<text x="22.5" y="57.9" font-size="14.5" fill="#2e323d" font-weight="normal" text-anchor="start" textLength="67.5" lengthAdjust="spacingAndGlyphs" stroke="#2e323d" stroke-width="0.22">OriginTrail</text>
<text x="98.75" y="57.9" font-size="14.5" fill="#363a45" font-weight="normal" text-anchor="middle" stroke="#363a45" stroke-width="0.22">/</text>
<text x="107" y="57.9" font-size="14.5" fill="#2e323d" font-weight="normal" text-anchor="start" textLength="16.3" lengthAdjust="spacingAndGlyphs" stroke="#2e323d" stroke-width="0.22">US</text>
<text x="128" y="57.9" font-size="14.5" fill="#2e323d" font-weight="normal" text-anchor="start" textLength="37" lengthAdjust="spacingAndGlyphs" stroke="#2e323d" stroke-width="0.22">Dollar</text>
<text x="173.75" y="57.9" font-size="14.5" fill="#363a45" font-weight="normal" text-anchor="middle" stroke="#131722" stroke-width="0.3">·</text>
<text x="182.5" y="57.9" font-size="14.5" fill="#2e323d" font-weight="normal" text-anchor="start" textLength="14.2" lengthAdjust="spacingAndGlyphs" stroke="#2e323d" stroke-width="0.22">1D</text>
<text x="205.05" y="57.9" font-size="14.5" fill="#363a45" font-weight="normal" text-anchor="middle" stroke="#131722" stroke-width="0.3">·</text>
<text x="212" y="57.9" font-size="14.5" fill="#2e323d" font-weight="normal" text-anchor="start" textLength="57.5" lengthAdjust="spacingAndGlyphs" stroke="#2e323d" stroke-width="0.22">Coinbase</text>
<text x="279.3" y="57.9" font-size="14.5" fill="#131722" font-weight="normal" text-anchor="start" textLength="9.6" lengthAdjust="spacingAndGlyphs" stroke="#131722" stroke-width="0.22">O</text>
<text x="289.3" y="57.9" font-size="14.5" fill="#F23645" font-weight="normal" text-anchor="start" textLength="42.9" lengthAdjust="spacingAndGlyphs" stroke="#F23645" stroke-width="0.22">0.3765</text>
<text x="341.8" y="57.9" font-size="14.5" fill="#131722" font-weight="normal" text-anchor="start" textLength="8.8" lengthAdjust="spacingAndGlyphs" stroke="#131722" stroke-width="0.22">H</text>
<text x="351.3" y="57.9" font-size="14.5" fill="#F23645" font-weight="normal" text-anchor="start" textLength="42.9" lengthAdjust="spacingAndGlyphs" stroke="#F23645" stroke-width="0.22">0.3774</text>
<text x="404.3" y="57.9" font-size="14.5" fill="#131722" font-weight="normal" text-anchor="start" textLength="6.3" lengthAdjust="spacingAndGlyphs" stroke="#131722" stroke-width="0.22">L</text>
<text x="410.6" y="57.9" font-size="14.5" fill="#F23645" font-weight="normal" text-anchor="start" textLength="42.9" lengthAdjust="spacingAndGlyphs" stroke="#F23645" stroke-width="0.22">0.3681</text>
<text x="463.6" y="57.9" font-size="14.5" fill="#131722" font-weight="normal" text-anchor="start" textLength="8.3" lengthAdjust="spacingAndGlyphs" stroke="#131722" stroke-width="0.22">C</text>
<text x="472.7" y="57.9" font-size="14.5" fill="#F23645" font-weight="normal" text-anchor="start" textLength="43.3" lengthAdjust="spacingAndGlyphs" stroke="#F23645" stroke-width="0.22">0.3698</text>
<text x="525.3" y="57.9" font-size="14.5" fill="#F23645" font-weight="normal" text-anchor="start" textLength="49.8" lengthAdjust="spacingAndGlyphs" stroke="#F23645" stroke-width="0.22">−0.0068</text>
<text x="581.7" y="57.9" font-size="14.5" fill="#F23645" font-weight="normal" text-anchor="start" textLength="54" lengthAdjust="spacingAndGlyphs" stroke="#F23645" stroke-width="0.22">(−1.81%)</text>
<text x="22.5" y="77.7" font-size="14.5" fill="#131722" font-weight="normal" text-anchor="start" textLength="16.5" lengthAdjust="spacingAndGlyphs" stroke="#131722" stroke-width="0.22">BB</text>
<text x="47.5" y="77.7" font-size="14.5" fill="#2962FF" font-weight="normal" text-anchor="start" textLength="43.5" lengthAdjust="spacingAndGlyphs" stroke="#2962FF" stroke-width="0.22">0.3656</text>
<text x="100" y="77.7" font-size="14.5" fill="#F23645" font-weight="normal" text-anchor="start" textLength="43.5" lengthAdjust="spacingAndGlyphs" stroke="#F23645" stroke-width="0.22">0.3946</text>
<text x="152.5" y="77.7" font-size="14.5" fill="#089981" font-weight="normal" text-anchor="start" textLength="43.5" lengthAdjust="spacingAndGlyphs" stroke="#089981" stroke-width="0.22">0.3367</text>
<text x="22.5" y="98.1" font-size="14.5" fill="#131722" font-weight="normal" text-anchor="start" textLength="25" lengthAdjust="spacingAndGlyphs" stroke="#131722" stroke-width="0.22">SMA</text>
<text x="57" y="98.1" font-size="14.5" fill="#2962FF" font-weight="normal" text-anchor="start" textLength="43.5" lengthAdjust="spacingAndGlyphs" stroke="#2962FF" stroke-width="0.22">0.3779</text>
<text x="22.5" y="460" font-size="14" fill="#131722" font-weight="normal" text-anchor="start" textLength="19" lengthAdjust="spacingAndGlyphs" stroke="#131722" stroke-width="0.22">RSI</text>
<text x="51" y="460" font-size="14" fill="#7E57C2" font-weight="normal" text-anchor="start" textLength="36" lengthAdjust="spacingAndGlyphs" stroke="#7E57C2" stroke-width="0.22">46.30</text>
<text x="96" y="460" font-size="14" fill="#FBE34A" font-weight="normal" text-anchor="start" textLength="35.5" lengthAdjust="spacingAndGlyphs" stroke="#FBE34A" stroke-width="0.22">46.75</text>
<text x="140.5" y="459.8" font-size="12" fill="#131722" font-weight="normal" text-anchor="start" textLength="8" lengthAdjust="spacingAndGlyphs" stroke="#131722" stroke-width="0.5">∅</text>
<text x="159" y="459.8" font-size="12" fill="#131722" font-weight="normal" text-anchor="start" textLength="8" lengthAdjust="spacingAndGlyphs" stroke="#131722" stroke-width="0.5">∅</text>
<text x="177.5" y="459.8" font-size="12" fill="#131722" font-weight="normal" text-anchor="start" textLength="8" lengthAdjust="spacingAndGlyphs" stroke="#131722" stroke-width="0.5">∅</text>
<text x="196" y="459.8" font-size="12" fill="#131722" font-weight="normal" text-anchor="start" textLength="8" lengthAdjust="spacingAndGlyphs" stroke="#131722" stroke-width="0.5">∅</text>
<path d="M1037.8,261.3 H1106.9 V281.3 H1037.8 Q1035.3,281.3 1035.3,278.8 V263.8 Q1035.3,261.3 1037.8,261.3Z" fill="#F23645"/><text x="1040.5" y="276.3" font-size="14" fill="#fff" font-weight="normal" text-anchor="start" textLength="61" lengthAdjust="spacingAndGlyphs" stroke="#fff" stroke-width="0.22">BB:Upper</text>
<path d="M1108.3,261.2 H1165.8 Q1168.3,261.2 1168.3,263.7 V279.3 Q1168.3,281.8 1165.8,281.8 H1108.3Z" fill="#F23645"/><text x="1119" y="276.5" font-size="14" fill="#fff" font-weight="normal" text-anchor="start" textLength="44" lengthAdjust="spacingAndGlyphs" stroke="#fff" stroke-width="0.22">0.3946</text>
<path d="M1048.3,282.3 H1106.9 V301.9 H1048.3 Q1045.8,301.9 1045.8,299.4 V284.8 Q1045.8,282.3 1048.3,282.3Z" fill="#2962FF"/><text x="1051" y="297.1" font-size="14" fill="#fff" font-weight="normal" text-anchor="start" textLength="51" lengthAdjust="spacingAndGlyphs" stroke="#fff" stroke-width="0.22">SMA:MA</text>
<path d="M1108.3,281.8 H1165.8 Q1168.3,281.8 1168.3,284.3 V299.4 Q1168.3,301.9 1165.8,301.9 H1108.3Z" fill="#2962FF"/><text x="1119" y="296.85" font-size="14" fill="#fff" font-weight="normal" text-anchor="start" textLength="44" lengthAdjust="spacingAndGlyphs" stroke="#fff" stroke-width="0.22">0.3779</text>
<path d="M1108.3,302.2 H1179.5 Q1182,302.2 1182,304.7 V337.5 Q1182,340 1179.5,340 H1108.3Z" fill="#F23645"/>
<text x="1119" y="317.5" font-size="14" fill="#fff" font-weight="normal" text-anchor="start" textLength="44" lengthAdjust="spacingAndGlyphs" stroke="#fff" stroke-width="0.22">0.3698</text>
<text x="1120" y="335.5" font-size="14" fill="#fff" font-weight="normal" text-anchor="start" textLength="56" lengthAdjust="spacingAndGlyphs" fill-opacity="0.85" stroke="#fff" stroke-width="0.22">10:55:46</text>
<path d="M1045.8,340.5 H1106.9 V360.7 H1045.8 Q1043.3,360.7 1043.3,358.2 V343.0 Q1043.3,340.5 1045.8,340.5Z" fill="#2962FF"/><text x="1048.5" y="355.6" font-size="14" fill="#fff" font-weight="normal" text-anchor="start" textLength="53" lengthAdjust="spacingAndGlyphs" stroke="#fff" stroke-width="0.22">BB:Basis</text>
<path d="M1108.3,340.5 H1165.8 Q1168.3,340.5 1168.3,343.0 V358.2 Q1168.3,360.7 1165.8,360.7 H1108.3Z" fill="#2962FF"/><text x="1119" y="355.6" font-size="14" fill="#fff" font-weight="normal" text-anchor="start" textLength="44" lengthAdjust="spacingAndGlyphs" stroke="#fff" stroke-width="0.22">0.3656</text>
<path d="M1037.8,361.2 H1106.9 V381.2 H1037.8 Q1035.3,381.2 1035.3,378.7 V363.7 Q1035.3,361.2 1037.8,361.2Z" fill="#089981"/><text x="1040.5" y="376.2" font-size="14" fill="#fff" font-weight="normal" text-anchor="start" textLength="61" lengthAdjust="spacingAndGlyphs" stroke="#fff" stroke-width="0.22">BB:Lower</text>
<path d="M1108.3,361.2 H1165.8 Q1168.3,361.2 1168.3,363.7 V378.7 Q1168.3,381.2 1165.8,381.2 H1108.3Z" fill="#089981"/><text x="1119" y="376.2" font-size="14" fill="#fff" font-weight="normal" text-anchor="start" textLength="44" lengthAdjust="spacingAndGlyphs" stroke="#fff" stroke-width="0.22">0.3367</text>
<path d="M1013.7,486.2 H1106.9 V506.2 H1013.7 Q1011.2,506.2 1011.2,503.7 V488.7 Q1011.2,486.2 1013.7,486.2Z" fill="#FFEB3B"/><text x="1016" y="501.2" font-size="14" fill="#131722" font-weight="normal" text-anchor="start" textLength="86" lengthAdjust="spacingAndGlyphs" stroke="#131722" stroke-width="0.22">RSI-based MA</text>
<path d="M1108.3,486.2 H1157.9 Q1160.4,486.2 1160.4,488.7 V503.7 Q1160.4,506.2 1157.9,506.2 H1108.3Z" fill="#FFEB3B"/><text x="1119" y="501.2" font-size="14" fill="#131722" font-weight="normal" text-anchor="start" textLength="36" lengthAdjust="spacingAndGlyphs" stroke="#131722" stroke-width="0.22">46.75</text>
<path d="M1079.7,506.8 H1106.9 V526.4 H1079.7 Q1077.2,526.4 1077.2,523.9 V509.3 Q1077.2,506.8 1079.7,506.8Z" fill="#7E57C2"/><text x="1082.5" y="521.6" font-size="14" fill="#fff" font-weight="normal" text-anchor="start" textLength="19" lengthAdjust="spacingAndGlyphs" stroke="#fff" stroke-width="0.22">RSI</text>
<path d="M1108.3,506.8 H1157.9 Q1160.4,506.8 1160.4,509.3 V523.9 Q1160.4,526.4 1157.9,526.4 H1108.3Z" fill="#7E57C2"/><text x="1119" y="521.6" font-size="14" fill="#fff" font-weight="normal" text-anchor="start" textLength="36" lengthAdjust="spacingAndGlyphs" stroke="#fff" stroke-width="0.22">46.30</text>
<g><circle cx="1071.7" cy="418.9" r="13.1" fill="#fff"/><circle cx="1071.7" cy="418.9" r="12.15" fill="none" stroke="#F23645" stroke-width="1.9"/><clipPath id="f3"><circle cx="1071.7" cy="418.9" r="9.7"/></clipPath><g clip-path="url(#f3)"><rect x="1062.0" y="409.2" width="19.4" height="19.4" fill="#f5f5f8"/><rect x="1062.0" y="409.20" width="19.4" height="3.88" fill="#EF5350"/><rect x="1062.0" y="416.96" width="19.4" height="3.88" fill="#EF5350"/><rect x="1062.0" y="424.72" width="19.4" height="3.88" fill="#EF5350"/><rect x="1062.0" y="409.2" width="12.1" height="11.64" fill="#1E88E5"/><rect x="1064.5" y="411.4" width="1.3" height="1.3" fill="#fff" fill-opacity="0.9"/><rect x="1064.5" y="414.5" width="1.3" height="1.3" fill="#fff" fill-opacity="0.9"/><rect x="1064.5" y="417.6" width="1.3" height="1.3" fill="#fff" fill-opacity="0.9"/><rect x="1067.6" y="411.4" width="1.3" height="1.3" fill="#fff" fill-opacity="0.9"/><rect x="1067.6" y="414.5" width="1.3" height="1.3" fill="#fff" fill-opacity="0.9"/><rect x="1067.6" y="417.6" width="1.3" height="1.3" fill="#fff" fill-opacity="0.9"/><rect x="1070.7" y="411.4" width="1.3" height="1.3" fill="#fff" fill-opacity="0.9"/><rect x="1070.7" y="414.5" width="1.3" height="1.3" fill="#fff" fill-opacity="0.9"/><rect x="1070.7" y="417.6" width="1.3" height="1.3" fill="#fff" fill-opacity="0.9"/></g></g>
<g><circle cx="1062.3" cy="418.9" r="13.1" fill="#fff"/><circle cx="1062.3" cy="418.9" r="12.15" fill="none" stroke="#F23645" stroke-width="1.9"/><clipPath id="f2"><circle cx="1062.3" cy="418.9" r="9.7"/></clipPath><g clip-path="url(#f2)"><rect x="1052.6" y="409.2" width="19.4" height="19.4" fill="#f5f5f8"/><rect x="1052.6" y="409.20" width="19.4" height="3.88" fill="#EF5350"/><rect x="1052.6" y="416.96" width="19.4" height="3.88" fill="#EF5350"/><rect x="1052.6" y="424.72" width="19.4" height="3.88" fill="#EF5350"/><rect x="1052.6" y="409.2" width="12.1" height="11.64" fill="#1E88E5"/><rect x="1055.1" y="411.4" width="1.3" height="1.3" fill="#fff" fill-opacity="0.9"/><rect x="1055.1" y="414.5" width="1.3" height="1.3" fill="#fff" fill-opacity="0.9"/><rect x="1055.1" y="417.6" width="1.3" height="1.3" fill="#fff" fill-opacity="0.9"/><rect x="1058.2" y="411.4" width="1.3" height="1.3" fill="#fff" fill-opacity="0.9"/><rect x="1058.2" y="414.5" width="1.3" height="1.3" fill="#fff" fill-opacity="0.9"/><rect x="1058.2" y="417.6" width="1.3" height="1.3" fill="#fff" fill-opacity="0.9"/><rect x="1061.3" y="411.4" width="1.3" height="1.3" fill="#fff" fill-opacity="0.9"/><rect x="1061.3" y="414.5" width="1.3" height="1.3" fill="#fff" fill-opacity="0.9"/><rect x="1061.3" y="417.6" width="1.3" height="1.3" fill="#fff" fill-opacity="0.9"/></g></g>
<g><circle cx="1046.6" cy="418.9" r="13.1" fill="#fff"/><circle cx="1046.6" cy="418.9" r="12.15" fill="none" stroke="#F23645" stroke-width="1.9"/><clipPath id="f1"><circle cx="1046.6" cy="418.9" r="9.7"/></clipPath><g clip-path="url(#f1)"><rect x="1036.8999999999999" y="409.2" width="19.4" height="19.4" fill="#f5f5f8"/><rect x="1036.8999999999999" y="409.20" width="19.4" height="3.88" fill="#EF5350"/><rect x="1036.8999999999999" y="416.96" width="19.4" height="3.88" fill="#EF5350"/><rect x="1036.8999999999999" y="424.72" width="19.4" height="3.88" fill="#EF5350"/><rect x="1036.8999999999999" y="409.2" width="12.1" height="11.64" fill="#1E88E5"/><rect x="1039.4" y="411.4" width="1.3" height="1.3" fill="#fff" fill-opacity="0.9"/><rect x="1039.4" y="414.5" width="1.3" height="1.3" fill="#fff" fill-opacity="0.9"/><rect x="1039.4" y="417.6" width="1.3" height="1.3" fill="#fff" fill-opacity="0.9"/><rect x="1042.5" y="411.4" width="1.3" height="1.3" fill="#fff" fill-opacity="0.9"/><rect x="1042.5" y="414.5" width="1.3" height="1.3" fill="#fff" fill-opacity="0.9"/><rect x="1042.5" y="417.6" width="1.3" height="1.3" fill="#fff" fill-opacity="0.9"/><rect x="1045.6" y="411.4" width="1.3" height="1.3" fill="#fff" fill-opacity="0.9"/><rect x="1045.6" y="414.5" width="1.3" height="1.3" fill="#fff" fill-opacity="0.9"/><rect x="1045.6" y="417.6" width="1.3" height="1.3" fill="#fff" fill-opacity="0.9"/></g></g>
<g transform="translate(15,622.1) scale(1.035)" fill="#d6d6d6"><path d="M14 22H7V11H0V4h14v18zM28 22h-8l7.5-18h8L28 22z"/><circle cx="20" cy="8" r="4"/></g>
<text x="60.5" y="644.7" font-size="24.6" fill="#d6d6d6" font-weight="normal" text-anchor="start" textLength="147.6" lengthAdjust="spacingAndGlyphs" stroke="#d6d6d6" stroke-width="1.1">TradingView</text>
</svg></body></html>
